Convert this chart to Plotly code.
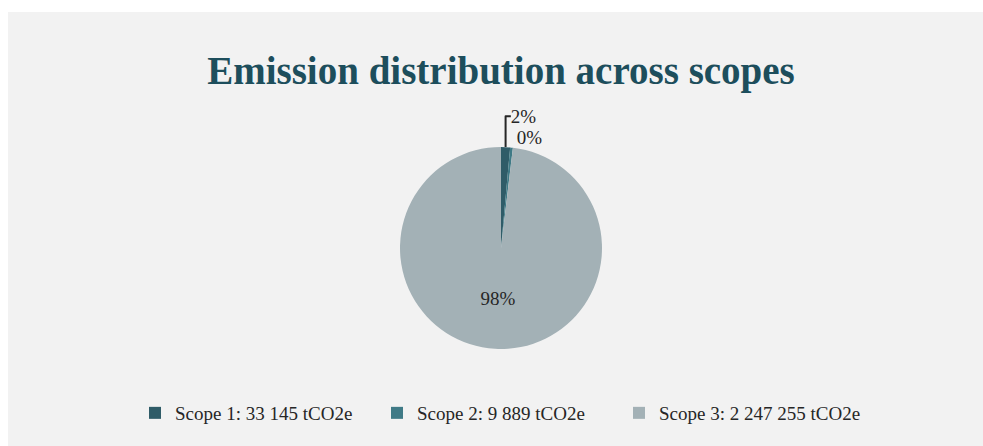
import plotly.graph_objects as go

categories = ["Scope 1: 33 145 tCO2e", "Scope 2: 9 889 tCO2e", "Scope 3: 2 247 255 tCO2e"]
values = [33145, 9889, 2247255]
slice_labels = ["2%", "0%", "98%"]
colors = ["#2f5c68", "#3f7a86", "#a3b1b6"]

W, H = 983, 446
mt, mb, ml, mr = 147, 97, 19, 0
PW, PH = W - ml - mr, H - mt - mb

fig = go.Figure(go.Pie(
    labels=categories,
    values=values,
    text=slice_labels,
    texttemplate="%{text}",
    textposition=["outside", "outside", "inside"],
    sort=False,
    direction="clockwise",
    rotation=0,
    marker=dict(colors=colors, line=dict(width=0)),
    textfont=dict(family="Liberation Serif", size=19, color="#262626"),
    insidetextorientation="horizontal",
    hoverinfo="label+percent",
    showlegend=True,
))

fig.update_layout(
    width=W, height=H,
    margin=dict(t=mt, b=mb, l=ml, r=mr, autoexpand=False),
    paper_bgcolor="white",
    plot_bgcolor="#f2f2f2",
    title=dict(
        text="<b>Emission distribution across scopes</b>",
        x=501 / W, xanchor="center",
        y=1 - 70 / H, yanchor="middle", yref="container",
        font=dict(family="Liberation Serif", size=39, color="#1d4e5c"),
    ),
    legend=dict(
        orientation="h",
        x=(135 - ml) / PW, xanchor="left",
        y=-(413 - (H - mb)) / PH, yanchor="middle",
        font=dict(family="Liberation Serif", size=19, color="#262626"),
        bgcolor="rgba(0,0,0,0)",
        entrywidth=197, entrywidthmode="pixels",
        traceorder="normal",
    ),
    shapes=[dict(
        type="rect", xref="paper", yref="paper",
        x0=(8 - ml) / PW, x1=1.0,
        y0=-mb / PH, y1=(H - 12 - mb) / PH,
        fillcolor="#f2f2f2", line=dict(width=0), layer="below",
    )],
)

fig.write_html("out.html")
